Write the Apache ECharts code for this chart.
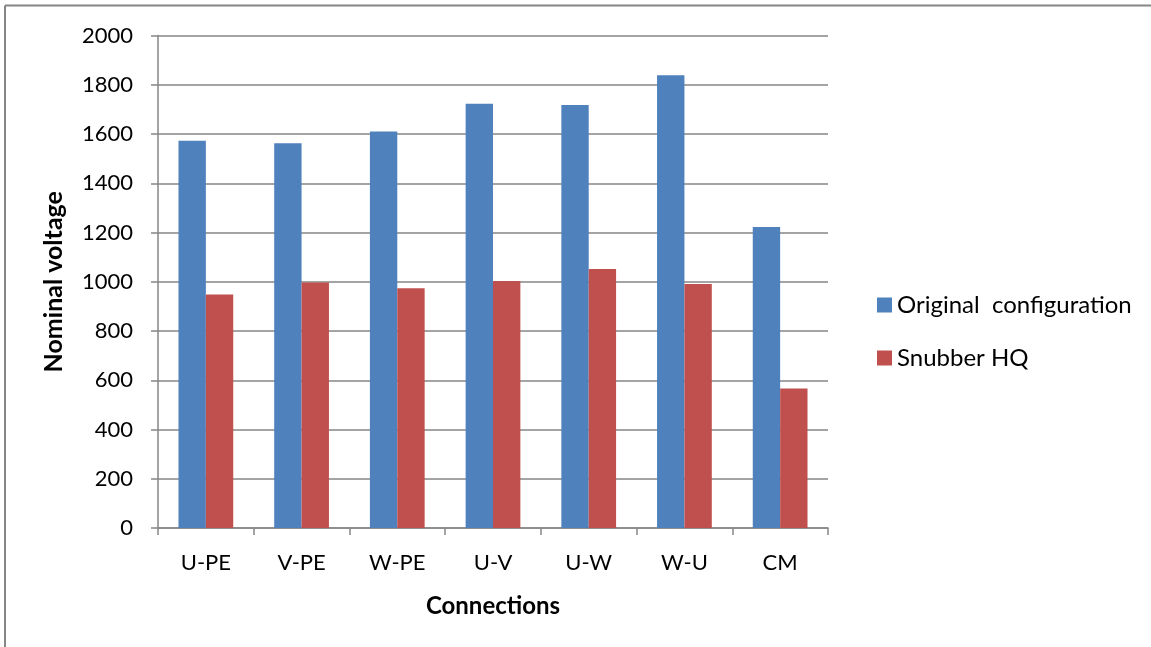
<!DOCTYPE html>
<html><head><meta charset="utf-8">
<script src="https://cdn.jsdelivr.net/npm/echarts@6/dist/echarts.min.js"></script>
<style>html,body{margin:0;padding:0;background:#fff}#c{width:1151px;height:647px}</style>
</head><body><div id="c"></div>
<script>
const categories = ['U-PE','V-PE','W-PE','U-V','U-W','W-U','CM'];
const originalConfiguration = [1573, 1562, 1610, 1723, 1718, 1839, 1222];
const snubberHQ = [948, 997, 974, 1003, 1052, 991, 566];
const seriesNames = ['Original  configuration', 'Snubber HQ'];
const yTicks = {min: 0, max: 2000, interval: 200};

const FONT = 'Lato';
const GRAY = '#868686';
const chart = echarts.init(document.getElementById('c'));
chart.setOption({
  animation: false,
  textStyle: {fontFamily: FONT},
  graphic: [
    {type: 'line', shape: {x1: 5, y1: 5.5, x2: 1151, y2: 5.5}, style: {stroke: GRAY, lineWidth: 2}},
    {type: 'line', shape: {x1: 5, y1: 5.5, x2: 5, y2: 647}, style: {stroke: GRAY, lineWidth: 2}}
  ],
  grid: {left: 158, right: 323, top: 35.5, bottom: 119, containLabel: false},
  legend: {
    orient: 'vertical', left: 872, top: 288,
    itemWidth: 15, itemHeight: 15, itemGap: 29,
    icon: 'rect',
    textStyle: {fontFamily: FONT, fontSize: 24, color: '#000'},
    data: seriesNames
  },
  xAxis: {
    type: 'category', data: categories,
    name: 'Connections', nameLocation: 'middle', nameGap: 66,
    nameTextStyle: {fontFamily: FONT, fontSize: 24, fontWeight: 'bold', color: '#000'},
    axisLine: {lineStyle: {color: GRAY, width: 1.5}},
    axisTick: {show: true, length: 7, lineStyle: {color: GRAY, width: 1.5}},
    axisLabel: {fontFamily: FONT, fontSize: 22, color: '#000', margin: 24}
  },
  yAxis: {
    type: 'value', min: yTicks.min, max: yTicks.max, interval: yTicks.interval,
    name: 'Nominal voltage', nameLocation: 'middle', nameGap: 92, nameRotate: 90,
    nameTextStyle: {fontFamily: FONT, fontSize: 25, fontWeight: 'bold', color: '#000'},
    axisLine: {show: true, lineStyle: {color: GRAY, width: 1.5}},
    axisTick: {show: true, length: 7, lineStyle: {color: GRAY, width: 1.5}},
    axisLabel: {fontFamily: FONT, fontSize: 22, color: '#000', margin: 25,
      formatter: v => String(v)},
    splitLine: {lineStyle: {color: GRAY, width: 1.5}}
  },
  series: [
    {name: seriesNames[0], type: 'bar', data: originalConfiguration, barWidth: '28.6%', barGap: '0%',
     itemStyle: {color: '#4F81BD'}},
    {name: seriesNames[1], type: 'bar', data: snubberHQ, barWidth: '28.6%', barGap: '0%',
     itemStyle: {color: '#C0504D'}}
  ]
});
</script></body></html>
